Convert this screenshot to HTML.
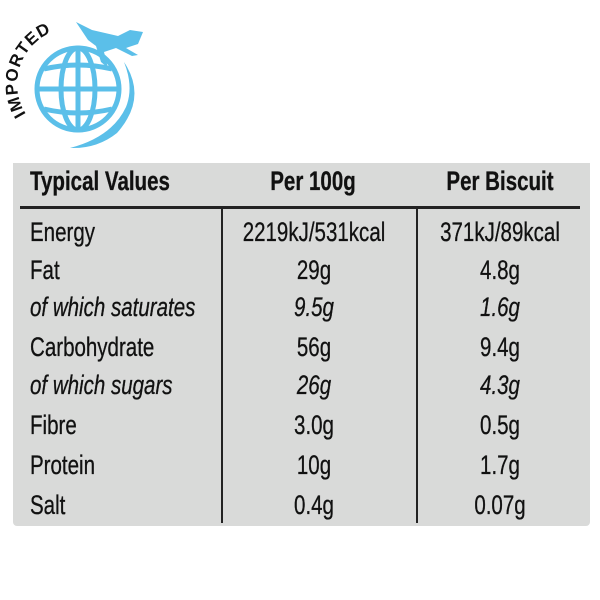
<!DOCTYPE html>
<html><head><style>
body{margin:0;width:600px;height:600px;background:#fff;position:relative;overflow:hidden;font-family:"Liberation Sans",sans-serif}
.panel{position:absolute;left:13px;top:163px;width:577px;height:363px;background:#d9dad9;border-radius:0 0 4px 4px}
.t{position:absolute;font-size:27px;color:#111;white-space:nowrap;transform:scaleX(0.76);line-height:1;-webkit-text-stroke:0.3px #111}
.l{transform-origin:0 0}
.c{transform-origin:50% 0}
.b{font-weight:bold}
.i{font-style:italic}
.hl{position:absolute;left:20px;width:560px;top:206px;height:3px;background:#222}
.vl{position:absolute;top:208px;height:315px;width:2px;background:#222}
</style></head><body>
<svg width="160" height="160" style="position:absolute;left:0;top:0" viewBox="0 0 160 160">
 <g fill="none" stroke="#5bbfe9" stroke-width="5">
  <circle cx="78" cy="89" r="41"/>
  <ellipse cx="78" cy="89" rx="17" ry="41"/>
  <line x1="78" y1="48" x2="78" y2="130"/>
  <line x1="37" y1="89" x2="119" y2="89"/>
  <path d="M44 69 Q78 61 112 69"/>
  <path d="M44 109 Q78 117 112 109"/>
 </g>
 <path d="M124 62 Q148 98 117 133 Q97 149 70 148 Q112 137 126 107 Q134 87 124 62Z" fill="#5bbfe9"/>
 <path d="M76 22 L92 30 L118 36 L130 30 L143 32 L138 44 L126 48 L138 55 L132 56 L116 48 L104 52 L108 68 L101 62 L96 46 L88 40 Z" fill="#5bbfe9"/>
 <defs><path id="arc" d="M26 114 A56 56 0 0 1 70 28"/></defs>
 <text font-family="Liberation Sans" font-weight="bold" font-size="17" fill="#111" letter-spacing="1"><textPath href="#arc">IMPORTED</textPath></text>
</svg>
<div class="panel"></div>
<div class="hl"></div>
<div class="vl" style="left:221px"></div>
<div class="vl" style="left:416px"></div>

<div class="t l b" style="left:30px;top:168px">Typical Values</div>
<div class="t c b" style="left:213px;width:200px;text-align:center;top:168px">Per 100g</div>
<div class="t c b" style="left:400px;width:200px;text-align:center;top:168px">Per Biscuit</div>

<div class="t l" style="left:30px;top:219px">Energy</div>
<div class="t l" style="left:30px;top:257px">Fat</div>
<div class="t l i" style="left:30px;top:294px">of which saturates</div>
<div class="t l" style="left:30px;top:334px">Carbohydrate</div>
<div class="t l i" style="left:30px;top:372px">of which sugars</div>
<div class="t l" style="left:30px;top:412px">Fibre</div>
<div class="t l" style="left:30px;top:452px">Protein</div>
<div class="t l" style="left:30px;top:492px">Salt</div>

<div class="t c" style="left:214px;width:200px;text-align:center;top:219px">2219kJ/531kcal</div>
<div class="t c" style="left:214px;width:200px;text-align:center;top:257px">29g</div>
<div class="t c i" style="left:214px;width:200px;text-align:center;top:294px">9.5g</div>
<div class="t c" style="left:214px;width:200px;text-align:center;top:334px">56g</div>
<div class="t c i" style="left:214px;width:200px;text-align:center;top:372px">26g</div>
<div class="t c" style="left:214px;width:200px;text-align:center;top:412px">3.0g</div>
<div class="t c" style="left:214px;width:200px;text-align:center;top:452px">10g</div>
<div class="t c" style="left:214px;width:200px;text-align:center;top:492px">0.4g</div>

<div class="t c" style="left:400px;width:200px;text-align:center;top:219px">371kJ/89kcal</div>
<div class="t c" style="left:400px;width:200px;text-align:center;top:257px">4.8g</div>
<div class="t c i" style="left:400px;width:200px;text-align:center;top:294px">1.6g</div>
<div class="t c" style="left:400px;width:200px;text-align:center;top:334px">9.4g</div>
<div class="t c i" style="left:400px;width:200px;text-align:center;top:372px">4.3g</div>
<div class="t c" style="left:400px;width:200px;text-align:center;top:412px">0.5g</div>
<div class="t c" style="left:400px;width:200px;text-align:center;top:452px">1.7g</div>
<div class="t c" style="left:400px;width:200px;text-align:center;top:492px">0.07g</div>
</body></html>
